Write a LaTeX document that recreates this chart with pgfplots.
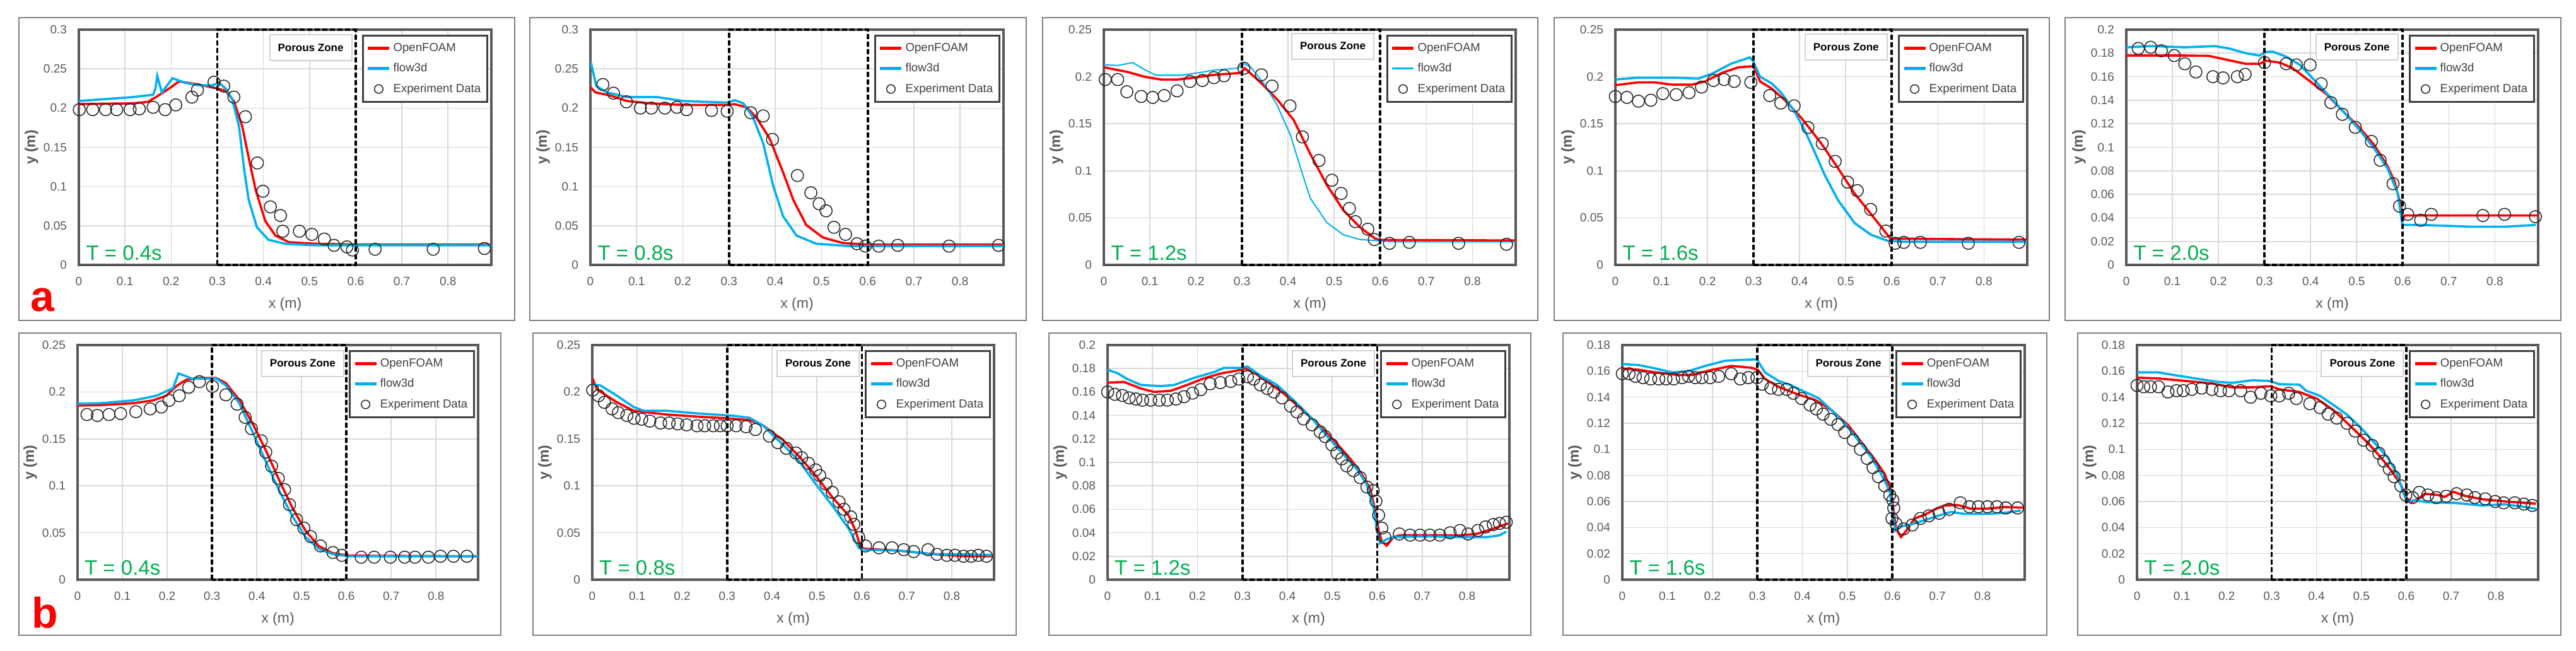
\documentclass[border=0pt]{standalone}
\usepackage{pgfplots}
\pgfplotsset{compat=1.18}
\usepackage{fontspec}
\setmainfont{Liberation Sans}
\definecolor{ofc}{RGB}{255,0,0}
\definecolor{fdc}{RGB}{0,176,240}
\definecolor{tgreen}{RGB}{0,176,80}
\definecolor{gridc}{RGB}{217,217,217}
\definecolor{axc}{RGB}{89,89,89}
\definecolor{labc}{RGB}{89,89,89}
\definecolor{legc}{RGB}{64,64,64}
\definecolor{framec}{RGB}{128,128,128}
\definecolor{pzc}{RGB}{210,210,210}
\definecolor{exc}{RGB}{38,38,38}
\pgfplotsset{
  panel/.style={
    scale only axis, anchor=south west,
    xmin=0, xmax=0.894, ymin=0,
    xtick={0,0.1,0.2,0.3,0.4,0.5,0.6,0.7,0.8},
    xmajorgrids, ymajorgrids,
    major grid style={draw=gridc, line width=0.8pt},
    axis line style={draw=axc, line width=1.6pt},
    major tick length=0pt,
    tick label style={font=\fontsize{9.5}{11}\selectfont, text=labc},
    xticklabel style={yshift=-6pt},
    yticklabel style={xshift=-6pt},
    /pgf/number format/fixed, /pgf/number format/precision=2,
    /pgf/number format/assume math mode=true,
    every axis x label/.style={at={(axis description cs:0.5,0)}, anchor=center, yshift=-31.5pt, font=\fontsize{11.5}{12}\selectfont, text=labc},
    every axis y label/.style={at={(axis description cs:0,0.5)}, anchor=center, xshift=-37.5pt, rotate=90, font=\bfseries\fontsize{11.5}{12}\selectfont, text=labc},
    xlabel={x (m)}, ylabel={y (m)},
    clip=false,
    legend style={at={(0.992,0.979)}, anchor=north east, draw=legc, line width=1.6pt, fill=white, font=\fontsize{9.3}{10}\selectfont, text=legc, row sep=4pt, inner xsep=3pt, inner ysep=4pt},
    legend cell align=left,
  },
  of/.style={draw=ofc, line width=1.8pt, no marks, legend image code/.code={\draw[draw=ofc, line width=2.2pt] (0pt,0pt) -- (17pt,0pt);}},
  fd/.style={draw=fdc, line width=1.8pt, no marks, legend image code/.code={\draw[draw=fdc, line width=2.2pt] (0pt,0pt) -- (17pt,0pt);}},
  fdthin/.style={draw=fdc, line width=1.0pt, no marks, legend image code/.code={\draw[draw=fdc, line width=1.4pt] (0pt,0pt) -- (17pt,0pt);}},
  ex/.style={only marks, mark=o, mark size=4.8pt, mark options={draw=exc, line width=0.75pt}, legend image code/.code={\draw[draw=exc, line width=0.9pt, mark size=3.4pt] plot[mark=o] coordinates {(8.5pt,0pt)};}},
}
\tikzset{
  pz/.style={draw=black, line width=1.9pt, dash pattern=on 4pt off 2pt},
  pzbox/.style={draw=pzc, line width=1pt, fill=white, minimum width=65pt, minimum height=20.5pt, font=\bfseries\fontsize{8.5}{10}\selectfont},
  tlab/.style={anchor=base west, text=tgreen, font=\fontsize{16.5}{16}\selectfont, inner sep=0pt},
  pframe/.style={draw=framec, line width=1.25pt},
}
\begin{document}
\begin{tikzpicture}
\useasboundingbox (0pt,0pt) rectangle (2042pt,-516pt);
% panel frames
\draw[pframe] (15pt,-14pt) rectangle (408pt,-254pt);
\draw[pframe] (420pt,-14pt) rectangle (813.5pt,-254pt);
\draw[pframe] (826.5pt,-14pt) rectangle (1219pt,-254pt);
\draw[pframe] (1232pt,-14pt) rectangle (1624.5pt,-254pt);
\draw[pframe] (1637pt,-14pt) rectangle (2030pt,-254pt);
\draw[pframe] (15pt,-264pt) rectangle (397pt,-503.5pt);
\draw[pframe] (422.5pt,-264pt) rectangle (805.5pt,-503.5pt);
\draw[pframe] (831.5pt,-264pt) rectangle (1213.5pt,-503.5pt);
\draw[pframe] (1239pt,-264pt) rectangle (1622.5pt,-503.5pt);
\draw[pframe] (1647pt,-264pt) rectangle (2030pt,-503.5pt);
\node[anchor=base west, text=ofc, font=\bfseries\fontsize{34}{34}\selectfont, inner sep=0pt] at (24pt,-246.5pt) {a};
\node[anchor=base west, text=ofc, font=\bfseries\fontsize{34}{34}\selectfont, inner sep=0pt] at (25pt,-497.5pt) {b};

% ===== Row 1, panel 1: T = 0.4s =====
\begin{axis}[panel, at={(62.5pt,-210pt)}, width=327pt, height=186.5pt, ymax=0.3, ytick={0,0.05,0.1,0.15,0.2,0.25,0.3}]
\addplot[of] coordinates {(0,0.205) (0.05,0.2055) (0.117,0.206) (0.150,0.208) (0.167,0.214) (0.196,0.225) (0.217,0.234) (0.26,0.230) (0.30,0.225) (0.318,0.222) (0.336,0.209) (0.354,0.177) (0.368,0.137) (0.383,0.096) (0.404,0.056) (0.426,0.0375) (0.455,0.029) (0.512,0.027) (0.6,0.026) (0.894,0.026)};
\addplot[fd] coordinates {(0,0.209) (0.117,0.214) (0.161,0.217) (0.166,0.225) (0.170,0.241) (0.175,0.230) (0.180,0.220) (0.203,0.238) (0.232,0.232) (0.26,0.229) (0.289,0.229) (0.304,0.232) (0.318,0.225) (0.332,0.212) (0.347,0.177) (0.358,0.123) (0.368,0.083) (0.386,0.048) (0.411,0.032) (0.447,0.027) (0.512,0.025) (0.894,0.025)};
\addplot[ex] coordinates {(0.001,0.198) (0.030,0.198) (0.058,0.198) (0.082,0.198) (0.111,0.198) (0.131,0.199) (0.161,0.201) (0.187,0.198) (0.210,0.204) (0.245,0.214) (0.257,0.223) (0.293,0.233) (0.314,0.228) (0.336,0.214) (0.361,0.189) (0.387,0.130) (0.399,0.094) (0.415,0.074) (0.437,0.063) (0.442,0.043) (0.478,0.043) (0.505,0.039) (0.532,0.033) (0.553,0.025) (0.581,0.023) (0.593,0.019) (0.642,0.020) (0.768,0.020) (0.879,0.021)};
\legend{OpenFOAM, flow3d, Experiment Data}
\draw[pz] (axis cs:0.3,0) rectangle (axis cs:0.6,0.3);
\node[pzbox] at (rel axis cs:0.562,0.924) {Porous Zone};
\node[tlab] at (rel axis cs:0.017,0.021) {T = 0.4s};
\end{axis}

% ===== Row 1, panel 2: T = 0.8s =====
\begin{axis}[panel, at={(468pt,-210pt)}, width=327.5pt, height=186.5pt, ymax=0.3, ytick={0,0.05,0.1,0.15,0.2,0.25,0.3}]
\addplot[of] coordinates {(0.001,0.226) (0.011,0.220) (0.043,0.216) (0.079,0.209) (0.129,0.206) (0.201,0.204) (0.295,0.204) (0.312,0.205) (0.338,0.201) (0.359,0.188) (0.388,0.161) (0.417,0.118) (0.439,0.083) (0.467,0.051) (0.503,0.035) (0.546,0.028) (0.597,0.026) (0.894,0.026)};
\addplot[fd] coordinates {(0.001,0.258) (0.013,0.228) (0.036,0.220) (0.079,0.214) (0.144,0.214) (0.201,0.209) (0.295,0.207) (0.313,0.210) (0.331,0.206) (0.352,0.188) (0.374,0.155) (0.395,0.102) (0.417,0.062) (0.446,0.0375) (0.489,0.027) (0.561,0.024) (0.894,0.024)};
\addplot[ex] coordinates {(0.027,0.230) (0.050,0.219) (0.078,0.208) (0.108,0.200) (0.132,0.200) (0.161,0.200) (0.187,0.201) (0.208,0.198) (0.262,0.197) (0.296,0.196) (0.347,0.194) (0.374,0.190) (0.394,0.160) (0.448,0.114) (0.477,0.092) (0.495,0.078) (0.510,0.069) (0.527,0.048) (0.552,0.039) (0.577,0.027) (0.595,0.024) (0.624,0.024) (0.665,0.025) (0.776,0.024) (0.883,0.025)};
\legend{OpenFOAM, flow3d, Experiment Data}
\draw[pz] (axis cs:0.3,0) rectangle (axis cs:0.6,0.3);
\node[tlab] at (rel axis cs:0.017,0.021) {T = 0.8s};
\end{axis}

% ===== Row 1, panel 3: T = 1.2s =====
\begin{axis}[panel, at={(875pt,-210pt)}, width=326.5pt, height=186.5pt, ymax=0.25, ytick={0,0.05,0.1,0.15,0.2,0.25}]
\addplot[of] coordinates {(0,0.210) (0.052,0.205) (0.088,0.200) (0.124,0.197) (0.160,0.197) (0.196,0.199) (0.239,0.202) (0.297,0.204) (0.306,0.209) (0.340,0.194) (0.376,0.176) (0.412,0.154) (0.448,0.118) (0.484,0.085) (0.520,0.058) (0.556,0.040) (0.589,0.028) (0.60,0.0265) (0.894,0.026)};
\addplot[fdthin] coordinates {(0,0.2125) (0.030,0.212) (0.063,0.215) (0.088,0.2076) (0.113,0.2016) (0.167,0.2016) (0.203,0.204) (0.239,0.207) (0.290,0.209) (0.304,0.214) (0.319,0.210) (0.347,0.193) (0.376,0.170) (0.405,0.138) (0.427,0.103) (0.448,0.071) (0.484,0.045) (0.520,0.032) (0.556,0.027) (0.628,0.0246) (0.894,0.0246)};
\addplot[ex] coordinates {(0.003,0.197) (0.030,0.197) (0.050,0.184) (0.081,0.179) (0.106,0.178) (0.131,0.180) (0.159,0.185) (0.187,0.195) (0.214,0.196) (0.239,0.199) (0.261,0.201) (0.304,0.209) (0.342,0.202) (0.365,0.190) (0.404,0.169) (0.431,0.136) (0.467,0.111) (0.495,0.090) (0.515,0.076) (0.533,0.060) (0.546,0.046) (0.573,0.038) (0.587,0.027) (0.620,0.023) (0.663,0.024) (0.770,0.023) (0.874,0.022)};
\legend{OpenFOAM, flow3d, Experiment Data}
\draw[pz] (axis cs:0.3,0) rectangle (axis cs:0.6,0.25);
\node[pzbox] at (rel axis cs:0.556,0.93) {Porous Zone};
\node[tlab] at (rel axis cs:0.017,0.021) {T = 1.2s};
\end{axis}

% ===== Row 1, panel 4: T = 1.6s =====
\begin{axis}[panel, at={(1280.5pt,-210pt)}, width=326.5pt, height=186.5pt, ymax=0.25, ytick={0,0.05,0.1,0.15,0.2,0.25}]
\addplot[of] coordinates {(0,0.191) (0.050,0.194) (0.086,0.194) (0.123,0.1915) (0.166,0.1915) (0.195,0.195) (0.231,0.204) (0.267,0.210) (0.295,0.211) (0.301,0.210) (0.314,0.195) (0.339,0.1875) (0.368,0.175) (0.404,0.156) (0.447,0.129) (0.483,0.103) (0.519,0.076) (0.555,0.054) (0.584,0.036) (0.597,0.028) (0.894,0.0268)};
\addplot[fd] coordinates {(0,0.197) (0.050,0.199) (0.123,0.199) (0.180,0.198) (0.209,0.203) (0.252,0.214) (0.292,0.2205) (0.299,0.2165) (0.314,0.200) (0.339,0.193) (0.360,0.183) (0.389,0.163) (0.411,0.143) (0.432,0.1205) (0.454,0.096) (0.483,0.069) (0.519,0.0446) (0.555,0.032) (0.591,0.0257) (0.627,0.0246) (0.894,0.0246)};
\addplot[ex] coordinates {(0.000,0.179) (0.025,0.178) (0.050,0.174) (0.077,0.175) (0.103,0.182) (0.132,0.181) (0.160,0.183) (0.187,0.189) (0.213,0.196) (0.236,0.197) (0.258,0.195) (0.294,0.194) (0.335,0.180) (0.359,0.172) (0.388,0.169) (0.418,0.146) (0.449,0.129) (0.477,0.110) (0.504,0.088) (0.525,0.079) (0.554,0.059) (0.587,0.036) (0.607,0.023) (0.626,0.024) (0.662,0.024) (0.766,0.023) (0.876,0.024)};
\legend{OpenFOAM, flow3d, Experiment Data}
\draw[pz] (axis cs:0.3,0) rectangle (axis cs:0.6,0.25);
\node[pzbox] at (rel axis cs:0.56,0.925) {Porous Zone};
\node[tlab] at (rel axis cs:0.017,0.021) {T = 1.6s};
\end{axis}

% ===== Row 1, panel 5: T = 2.0s =====
\begin{axis}[panel, at={(1685.5pt,-210pt)}, width=326.5pt, height=186.5pt, ymax=0.2, ytick={0,0.02,0.04,0.06,0.08,0.1,0.12,0.14,0.16,0.18,0.2}]
\addplot[of] coordinates {(0,0.178) (0.127,0.178) (0.179,0.1777) (0.223,0.174) (0.259,0.171) (0.290,0.171) (0.303,0.1736) (0.333,0.172) (0.362,0.167) (0.399,0.156) (0.435,0.145) (0.472,0.130) (0.508,0.116) (0.538,0.102) (0.567,0.084) (0.582,0.071) (0.595,0.052) (0.600,0.039) (0.604,0.042) (0.894,0.042)};
\addplot[fd] coordinates {(0,0.185) (0.054,0.186) (0.127,0.185) (0.193,0.186) (0.223,0.184) (0.259,0.180) (0.289,0.178) (0.303,0.181) (0.318,0.1813) (0.347,0.177) (0.377,0.170) (0.406,0.158) (0.442,0.143) (0.472,0.130) (0.508,0.114) (0.538,0.099) (0.567,0.082) (0.589,0.061) (0.598,0.0375) (0.600,0.034) (0.640,0.034) (0.714,0.033) (0.750,0.0325) (0.823,0.0325) (0.889,0.034)};
\addplot[ex] coordinates {(0.026,0.184) (0.053,0.185) (0.076,0.182) (0.104,0.178) (0.127,0.171) (0.151,0.164) (0.188,0.160) (0.210,0.159) (0.241,0.160) (0.258,0.162) (0.300,0.172) (0.347,0.171) (0.369,0.170) (0.399,0.170) (0.423,0.154) (0.444,0.138) (0.469,0.128) (0.497,0.117) (0.532,0.105) (0.551,0.089) (0.579,0.069) (0.593,0.050) (0.611,0.043) (0.639,0.038) (0.662,0.043) (0.774,0.042) (0.821,0.043) (0.888,0.041)};
\legend{OpenFOAM, flow3d, Experiment Data}
\draw[pz] (axis cs:0.3,0) rectangle (axis cs:0.6,0.2);
\node[pzbox] at (rel axis cs:0.56,0.925) {Porous Zone};
\node[tlab] at (rel axis cs:0.017,0.021) {T = 2.0s};
\end{axis}

% ===== Row 2, panel 1: T = 0.4s =====
\begin{axis}[panel, at={(61.5pt,-459.5pt)}, width=317.5pt, height=186pt, ymax=0.25, ytick={0,0.05,0.1,0.15,0.2,0.25}]
\addplot[of] coordinates {(0,0.1855) (0.050,0.186) (0.124,0.188) (0.168,0.191) (0.198,0.196) (0.220,0.206) (0.242,0.213) (0.272,0.215) (0.309,0.215) (0.331,0.2095) (0.361,0.1915) (0.390,0.167) (0.420,0.138) (0.450,0.106) (0.479,0.077) (0.509,0.052) (0.538,0.036) (0.568,0.0285) (0.605,0.0256) (0.894,0.025)};
\addplot[fd] coordinates {(0,0.1875) (0.050,0.188) (0.124,0.191) (0.176,0.196) (0.213,0.204) (0.225,0.2196) (0.239,0.2174) (0.257,0.214) (0.309,0.2145) (0.331,0.207) (0.361,0.188) (0.390,0.158) (0.420,0.126) (0.450,0.095) (0.479,0.068) (0.509,0.0454) (0.538,0.033) (0.568,0.0274) (0.605,0.025) (0.894,0.025)};
\addplot[ex] coordinates {(0.021,0.176) (0.044,0.175) (0.070,0.176) (0.096,0.177) (0.130,0.179) (0.162,0.182) (0.187,0.184) (0.204,0.191) (0.227,0.196) (0.248,0.205) (0.272,0.211) (0.301,0.206) (0.331,0.197) (0.356,0.187) (0.374,0.173) (0.388,0.161) (0.410,0.148) (0.420,0.136) (0.433,0.121) (0.448,0.108) (0.462,0.096) (0.473,0.080) (0.489,0.064) (0.505,0.055) (0.520,0.046) (0.542,0.036) (0.570,0.029) (0.590,0.026) (0.633,0.024) (0.662,0.024) (0.698,0.024) (0.730,0.024) (0.753,0.024) (0.783,0.024) (0.810,0.025) (0.839,0.025) (0.869,0.025)};
\legend{OpenFOAM, flow3d, Experiment Data}
\draw[pz] (axis cs:0.3,0) rectangle (axis cs:0.6,0.25);
\node[pzbox] at (rel axis cs:0.562,0.922) {Porous Zone};
\node[tlab] at (rel axis cs:0.017,0.021) {T = 0.4s};
\end{axis}

% ===== Row 2, panel 2: T = 0.8s =====
\begin{axis}[panel, at={(469.5pt,-459.5pt)}, width=318.5pt, height=186pt, ymax=0.25, ytick={0,0.05,0.1,0.15,0.2,0.25}]
\addplot[of] coordinates {(0.001,0.214) (0.010,0.203) (0.032,0.196) (0.055,0.189) (0.092,0.180) (0.128,0.178) (0.165,0.176) (0.239,0.1736) (0.298,0.172) (0.350,0.170) (0.379,0.1646) (0.424,0.149) (0.461,0.131) (0.497,0.111) (0.534,0.088) (0.571,0.068) (0.586,0.052) (0.597,0.034) (0.608,0.033) (0.682,0.031) (0.756,0.0274) (0.830,0.025) (0.889,0.025)};
\addplot[fd] coordinates {(0.001,0.208) (0.018,0.207) (0.055,0.196) (0.092,0.184) (0.114,0.180) (0.165,0.180) (0.239,0.177) (0.313,0.1747) (0.350,0.1725) (0.379,0.1646) (0.424,0.144) (0.461,0.126) (0.497,0.102) (0.534,0.079) (0.571,0.054) (0.593,0.034) (0.608,0.032) (0.682,0.031) (0.756,0.0274) (0.830,0.027) (0.889,0.0263)};
\addplot[ex] coordinates {(0.001,0.202) (0.014,0.196) (0.027,0.189) (0.044,0.182) (0.058,0.178) (0.077,0.175) (0.093,0.172) (0.110,0.171) (0.128,0.169) (0.152,0.167) (0.171,0.167) (0.190,0.166) (0.210,0.165) (0.233,0.164) (0.250,0.164) (0.269,0.164) (0.285,0.164) (0.300,0.164) (0.320,0.164) (0.342,0.163) (0.363,0.160) (0.394,0.153) (0.413,0.146) (0.432,0.140) (0.453,0.135) (0.466,0.130) (0.481,0.124) (0.497,0.117) (0.506,0.111) (0.520,0.102) (0.534,0.093) (0.549,0.083) (0.560,0.075) (0.575,0.067) (0.582,0.059) (0.593,0.045) (0.608,0.036) (0.638,0.034) (0.667,0.034) (0.693,0.032) (0.715,0.030) (0.747,0.032) (0.767,0.027) (0.789,0.026) (0.807,0.026) (0.826,0.025) (0.843,0.025) (0.859,0.026) (0.877,0.025)};
\legend{OpenFOAM, flow3d, Experiment Data}
\draw[pz] (axis cs:0.3,0) rectangle (axis cs:0.6,0.25);
\node[pzbox] at (rel axis cs:0.562,0.922) {Porous Zone};
\node[tlab] at (rel axis cs:0.017,0.021) {T = 0.8s};
\end{axis}

% ===== Row 2, panel 3: T = 1.2s =====
\begin{axis}[panel, at={(878pt,-459.5pt)}, width=318.5pt, height=186pt, ymax=0.2, ytick={0,0.02,0.04,0.06,0.08,0.1,0.12,0.14,0.16,0.18,0.2}]
\addplot[of] coordinates {(0,0.168) (0.037,0.1685) (0.074,0.163) (0.104,0.160) (0.140,0.161) (0.177,0.166) (0.214,0.1716) (0.251,0.1757) (0.296,0.1788) (0.307,0.180) (0.325,0.1766) (0.355,0.169) (0.392,0.1586) (0.429,0.146) (0.466,0.1335) (0.503,0.119) (0.540,0.103) (0.562,0.092) (0.584,0.078) (0.595,0.060) (0.603,0.042) (0.610,0.0327) (0.621,0.029) (0.636,0.0363) (0.651,0.038) (0.710,0.038) (0.784,0.0378) (0.821,0.039) (0.858,0.0435) (0.891,0.048)};
\addplot[fd] coordinates {(0,0.179) (0.022,0.176) (0.044,0.171) (0.074,0.166) (0.118,0.165) (0.148,0.166) (0.192,0.172) (0.237,0.177) (0.259,0.1806) (0.296,0.1806) (0.311,0.1817) (0.340,0.174) (0.377,0.166) (0.414,0.153) (0.451,0.139) (0.488,0.1227) (0.525,0.1065) (0.555,0.094) (0.577,0.081) (0.591,0.063) (0.600,0.0417) (0.606,0.031) (0.621,0.0345) (0.636,0.0363) (0.710,0.037) (0.784,0.0363) (0.843,0.0363) (0.872,0.0378) (0.887,0.041)};
\addplot[ex] coordinates {(0.000,0.160) (0.016,0.158) (0.033,0.157) (0.048,0.155) (0.063,0.154) (0.078,0.153) (0.096,0.153) (0.115,0.153) (0.133,0.153) (0.152,0.154) (0.170,0.156) (0.189,0.159) (0.207,0.162) (0.228,0.167) (0.251,0.168) (0.274,0.169) (0.292,0.171) (0.311,0.173) (0.325,0.171) (0.340,0.166) (0.355,0.163) (0.370,0.160) (0.388,0.155) (0.407,0.148) (0.421,0.143) (0.436,0.137) (0.455,0.132) (0.473,0.126) (0.484,0.122) (0.499,0.115) (0.510,0.108) (0.521,0.103) (0.532,0.097) (0.547,0.093) (0.562,0.087) (0.577,0.079) (0.591,0.076) (0.597,0.067) (0.603,0.055) (0.610,0.044) (0.617,0.036) (0.649,0.039) (0.673,0.038) (0.695,0.038) (0.717,0.038) (0.739,0.038) (0.762,0.040) (0.784,0.042) (0.802,0.039) (0.824,0.042) (0.841,0.045) (0.858,0.047) (0.872,0.048) (0.887,0.049)};
\legend{OpenFOAM, flow3d, Experiment Data}
\draw[pz] (axis cs:0.3,0) rectangle (axis cs:0.6,0.2);
\node[pzbox] at (rel axis cs:0.562,0.922) {Porous Zone};
\node[tlab] at (rel axis cs:0.017,0.021) {T = 1.2s};
\end{axis}

% ===== Row 2, panel 4: T = 1.6s =====
\begin{axis}[panel, at={(1286pt,-459.5pt)}, width=319pt, height=186pt, ymax=0.18, ytick={0,0.02,0.04,0.06,0.08,0.1,0.12,0.14,0.16,0.18}]
\addplot[of] coordinates {(0,0.162) (0.037,0.161) (0.074,0.159) (0.125,0.157) (0.155,0.157) (0.199,0.161) (0.243,0.164) (0.288,0.1625) (0.301,0.161) (0.317,0.154) (0.347,0.148) (0.391,0.142) (0.428,0.138) (0.465,0.130) (0.502,0.1185) (0.531,0.1055) (0.560,0.0926) (0.583,0.081) (0.597,0.068) (0.603,0.052) (0.608,0.039) (0.619,0.0327) (0.631,0.0376) (0.649,0.047) (0.671,0.0497) (0.693,0.0537) (0.715,0.057) (0.745,0.0573) (0.774,0.0545) (0.811,0.0545) (0.848,0.0557) (0.892,0.0553)};
\addplot[fd] coordinates {(0,0.1654) (0.037,0.1646) (0.074,0.162) (0.111,0.159) (0.147,0.160) (0.184,0.164) (0.229,0.168) (0.273,0.1687) (0.299,0.169) (0.317,0.159) (0.347,0.1525) (0.376,0.149) (0.406,0.144) (0.435,0.1395) (0.465,0.130) (0.494,0.120) (0.524,0.107) (0.553,0.094) (0.575,0.081) (0.594,0.068) (0.601,0.052) (0.606,0.0376) (0.619,0.041) (0.642,0.0424) (0.671,0.0456) (0.701,0.049) (0.730,0.052) (0.760,0.0505) (0.811,0.0505) (0.848,0.0513) (0.885,0.053)};
\addplot[ex] coordinates {(0.000,0.158) (0.015,0.158) (0.029,0.156) (0.046,0.155) (0.063,0.154) (0.081,0.154) (0.097,0.154) (0.114,0.154) (0.133,0.155) (0.147,0.156) (0.162,0.155) (0.177,0.155) (0.195,0.155) (0.214,0.156) (0.242,0.158) (0.262,0.154) (0.280,0.155) (0.299,0.155) (0.311,0.150) (0.330,0.147) (0.347,0.146) (0.365,0.146) (0.380,0.143) (0.398,0.139) (0.417,0.134) (0.431,0.131) (0.446,0.127) (0.463,0.123) (0.479,0.119) (0.494,0.113) (0.513,0.107) (0.529,0.100) (0.544,0.093) (0.557,0.086) (0.569,0.079) (0.583,0.072) (0.594,0.065) (0.601,0.061) (0.603,0.055) (0.599,0.047) (0.608,0.043) (0.625,0.039) (0.644,0.042) (0.662,0.047) (0.681,0.049) (0.704,0.051) (0.726,0.054) (0.751,0.059) (0.771,0.056) (0.791,0.056) (0.811,0.056) (0.832,0.056) (0.852,0.055) (0.878,0.055)};
\legend{OpenFOAM, flow3d, Experiment Data}
\draw[pz] (axis cs:0.3,0) rectangle (axis cs:0.6,0.18);
\node[pzbox] at (rel axis cs:0.562,0.922) {Porous Zone};
\node[tlab] at (rel axis cs:0.017,0.021) {T = 1.6s};
\end{axis}

% ===== Row 2, panel 5: T = 2.0s =====
\begin{axis}[panel, at={(1694pt,-459.5pt)}, width=318pt, height=186pt, ymax=0.18, ytick={0,0.02,0.04,0.06,0.08,0.1,0.12,0.14,0.16,0.18}]
\addplot[of] coordinates {(0,0.155) (0.047,0.1544) (0.107,0.1525) (0.167,0.1505) (0.212,0.1476) (0.257,0.1476) (0.298,0.1484) (0.317,0.146) (0.362,0.144) (0.400,0.139) (0.438,0.130) (0.475,0.118) (0.513,0.1055) (0.543,0.094) (0.565,0.0845) (0.588,0.073) (0.599,0.0635) (0.611,0.0594) (0.629,0.0626) (0.641,0.0659) (0.671,0.065) (0.686,0.0635) (0.705,0.0675) (0.731,0.0643) (0.768,0.0618) (0.821,0.060) (0.889,0.0583)};
\addplot[fd] coordinates {(0,0.159) (0.047,0.159) (0.092,0.1565) (0.137,0.154) (0.182,0.1517) (0.212,0.151) (0.257,0.153) (0.295,0.1525) (0.317,0.150) (0.362,0.1496) (0.377,0.145) (0.408,0.141) (0.438,0.134) (0.468,0.1266) (0.498,0.117) (0.528,0.1055) (0.558,0.094) (0.580,0.081) (0.595,0.065) (0.603,0.060) (0.618,0.061) (0.648,0.0594) (0.708,0.0589) (0.768,0.057) (0.821,0.0578) (0.859,0.056) (0.889,0.0545)};
\addplot[ex] coordinates {(0.000,0.149) (0.015,0.148) (0.030,0.148) (0.048,0.148) (0.069,0.144) (0.088,0.145) (0.103,0.145) (0.122,0.146) (0.144,0.147) (0.167,0.146) (0.186,0.145) (0.205,0.145) (0.231,0.145) (0.253,0.140) (0.276,0.143) (0.298,0.141) (0.317,0.141) (0.338,0.143) (0.355,0.139) (0.385,0.135) (0.408,0.132) (0.426,0.127) (0.445,0.124) (0.468,0.120) (0.486,0.114) (0.505,0.107) (0.524,0.103) (0.539,0.097) (0.550,0.091) (0.562,0.085) (0.573,0.079) (0.588,0.072) (0.599,0.065) (0.614,0.063) (0.629,0.067) (0.648,0.065) (0.667,0.063) (0.689,0.064) (0.712,0.066) (0.735,0.065) (0.753,0.063) (0.776,0.062) (0.798,0.060) (0.817,0.059) (0.842,0.059) (0.862,0.058) (0.881,0.057)};
\legend{OpenFOAM, flow3d, Experiment Data}
\draw[pz] (axis cs:0.3,0) rectangle (axis cs:0.6,0.18);
\node[pzbox] at (rel axis cs:0.562,0.922) {Porous Zone};
\node[tlab] at (rel axis cs:0.017,0.021) {T = 2.0s};
\end{axis}
\end{tikzpicture}
\end{document}
